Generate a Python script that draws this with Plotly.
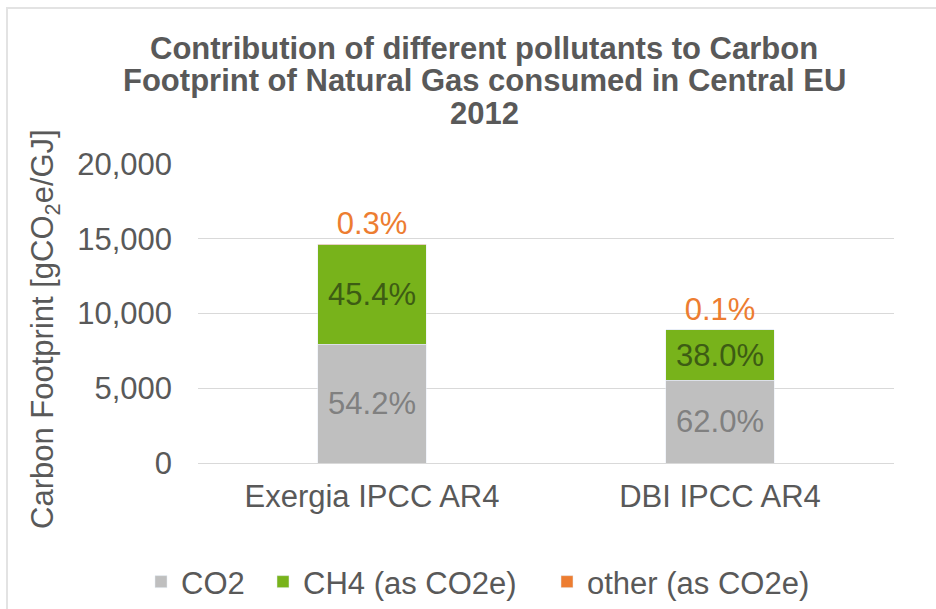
import plotly.graph_objects as go

categories = ["Exergia IPCC AR4", "DBI IPCC AR4"]
co2 = [7940, 5525]
ch4 = [6650, 3385]
other = [44, 9]
co2_labels = ["54.2%", "62.0%"]
ch4_labels = ["45.4%", "38.0%"]
other_labels = ["0.3%", "0.1%"]
y_ticks = [0, 5000, 10000, 15000, 20000]

FONT = "Liberation Sans, Arial, sans-serif"
TXT = "#595959"
FS = 31

L, R, T, B = 198, 894, 164, 463
W, H = 936, 609
pw, ph = R - L, B - T

def px_x(x):
    return (x - L) / pw

def px_y(y):
    return (B - y) / ph

fig = go.Figure()
fig.add_bar(x=categories, y=co2, name="CO2", marker_color="#BFBFBF",
            text=co2_labels, textposition="inside", insidetextanchor="middle",
            textfont=dict(color="#808080", size=FS, family=FONT), width=0.313,
            legend="legend")
fig.add_bar(x=categories, y=ch4, name="CH4 (as CO2e)", marker_color="#78B31B",
            text=ch4_labels, textposition="inside", insidetextanchor="middle",
            textfont=dict(color="#3D5C14", size=FS, family=FONT), width=0.313,
            legend="legend2")
fig.add_bar(x=categories, y=other, name="other (as CO2e)", marker_color="#ED7D31",
            text=other_labels, textposition="outside",
            textfont=dict(color="#ED7D31", size=FS, family=FONT), width=0.313,
            cliponaxis=False, legend="legend3")

leg_y = 1 - 582 / H
def leg(xpx):
    return dict(orientation="h", xref="container", yref="container",
                x=xpx / W, xanchor="left", y=leg_y, yanchor="middle",
                font=dict(size=FS, color=TXT, family=FONT), itemwidth=30,
                bgcolor="rgba(0,0,0,0)")

fig.update_layout(
    barmode="stack",
    width=W, height=H,
    margin=dict(l=L, r=W - R, t=T, b=H - B, autoexpand=False),
    paper_bgcolor="white", plot_bgcolor="white",
    font=dict(family=FONT, color=TXT, size=FS),
    showlegend=True,
    legend=leg(141), legend2=leg(263), legend3=leg(547),
)
fig.update_xaxes(showgrid=False, showline=True, linecolor="#D9D9D9", linewidth=1,
                 tickfont=dict(size=FS, color=TXT, family=FONT),
                 ticklabelstandoff=6, automargin=False)
fig.update_yaxes(range=[0, 20000], tickvals=y_ticks, tickformat=",d",
                 showgrid=True, gridcolor="#D9D9D9", gridwidth=1,
                 zeroline=False, showline=False,
                 tickfont=dict(size=FS, color=TXT, family=FONT),
                 ticklabelstandoff=25, automargin=False)

title_lines = ["Contribution of different pollutants to Carbon",
               "Footprint of Natural Gas consumed in Central EU",
               "2012"]
for line, yp in zip(title_lines, [48, 81, 114]):
    fig.add_annotation(text=f"<b>{line}</b>", xref="paper", yref="paper",
                       x=px_x(484), y=px_y(yp), xanchor="center", yanchor="middle",
                       showarrow=False, font=dict(size=31, color=TXT, family=FONT))

fig.add_annotation(text="Carbon Footprint [gCO<sub>2</sub>e/GJ]", xref="paper", yref="paper",
                   x=px_x(45), y=px_y(329), xanchor="center", yanchor="middle",
                   textangle=-90, showarrow=False,
                   font=dict(size=31, color=TXT, family=FONT))

# chart area border (top and left edges visible)
fig.add_shape(type="path", xref="paper", yref="paper",
              path=f"M {px_x(7)} {px_y(612)} L {px_x(7)} {px_y(8)} L {px_x(940)} {px_y(8)}",
              line=dict(color="#E3E3E3", width=2))

fig.write_html("out.html")
